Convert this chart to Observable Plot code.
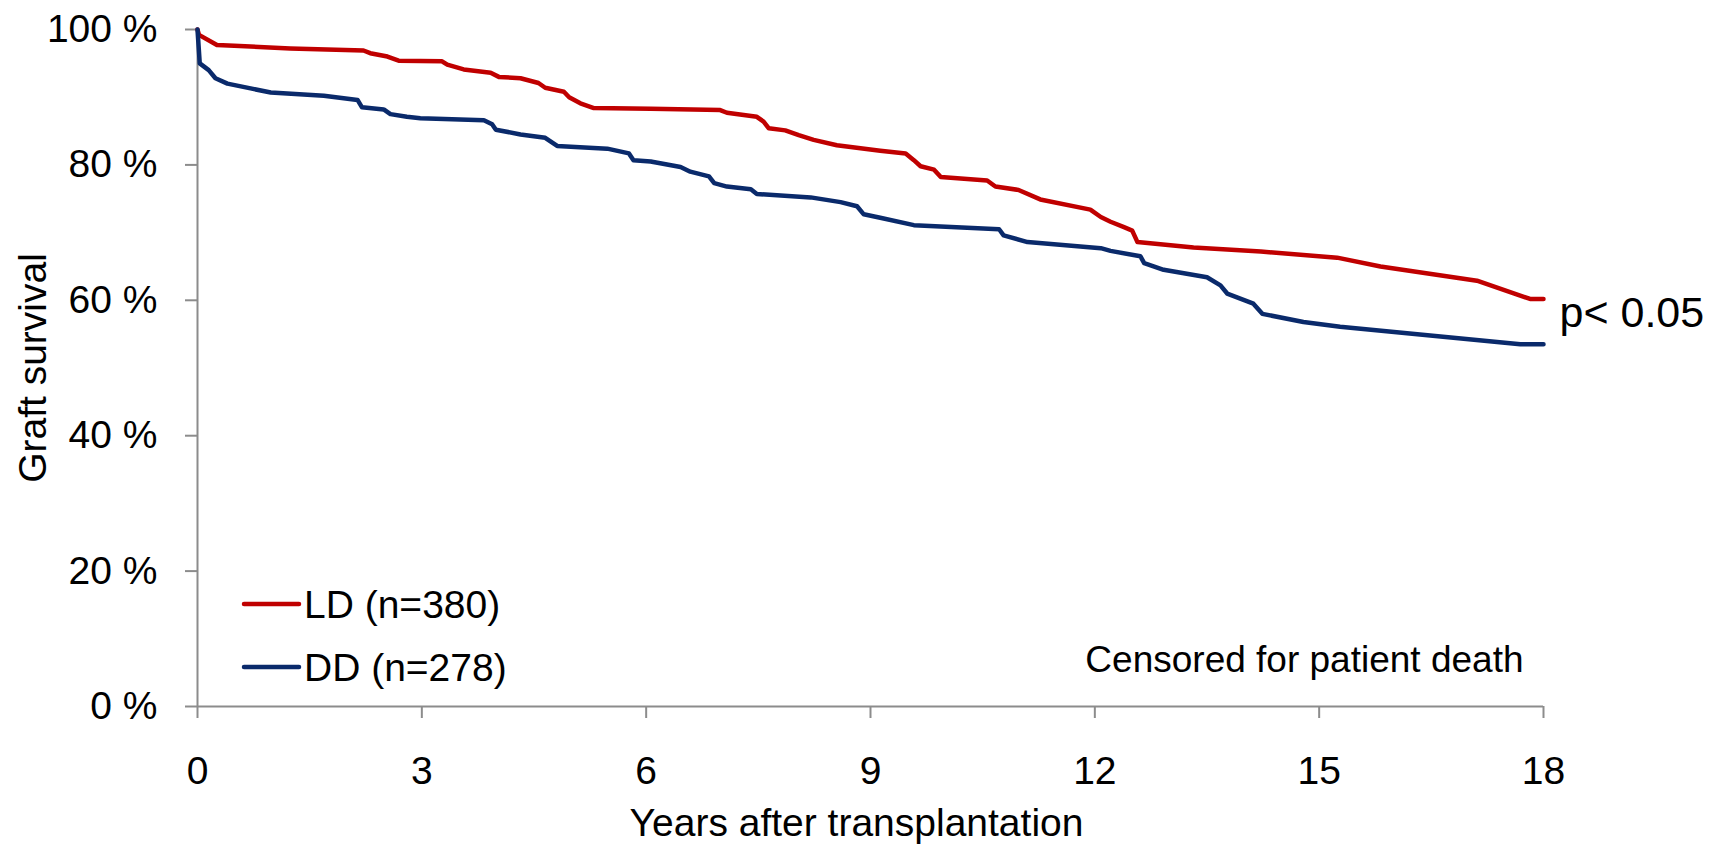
<!DOCTYPE html>
<html><head><meta charset="utf-8">
<script src="https://cdn.jsdelivr.net/npm/d3@7"></script>
<script src="https://cdn.jsdelivr.net/npm/@observablehq/plot@0.6"></script>
<style>
body{margin:0;background:#fff;}
#chart{width:1720px;height:848px;}
</style>
</head><body><div id="chart"></div>
<script>
// ---- data ----
const seriesNames = ["LD (n=380)", "DD (n=278)"];
const seriesColors = ["#c00000", "#0a2a6b"];

const ldYears = [0,0.02,0.26,0.49,1.24,2.22,2.31,2.54,2.69,3.27,3.34,3.56,3.92,4.03,4.32,4.56,4.65,4.90,4.97,5.12,5.30,6.06,6.99,7.08,7.48,7.57,7.64,7.86,8.04,8.24,8.55,9.13,9.47,9.58,9.67,9.85,9.94,10.56,10.67,10.98,11.27,11.94,12.08,12.21,12.39,12.50,12.57,13.32,14.22,15.24,15.82,17.11,17.82,18.0];
const ldSurvival = [100,99.2,97.7,97.6,97.2,96.9,96.5,96.0,95.4,95.3,94.8,94.1,93.6,93.0,92.8,92.1,91.4,90.8,90.0,89.1,88.4,88.3,88.1,87.7,87.1,86.4,85.4,85.1,84.4,83.7,82.9,82.1,81.7,80.7,79.8,79.3,78.2,77.7,76.8,76.3,74.9,73.4,72.3,71.6,70.8,70.3,68.6,67.8,67.2,66.3,65.0,62.9,60.2,60.2];

const ddYears = [0,0.03,0.15,0.24,0.40,0.71,0.98,1.69,2.14,2.20,2.49,2.58,2.80,2.98,3.83,3.94,3.99,4.32,4.65,4.81,5.48,5.77,5.83,6.06,6.46,6.59,6.84,6.91,7.08,7.40,7.48,8.20,8.60,8.82,8.91,9.13,9.58,10.72,10.78,11.10,12.08,12.21,12.61,12.66,12.92,13.50,13.68,13.77,14.12,14.24,14.79,15.28,17.69,18.0];
const ddSurvival = [100,95.0,94.0,92.8,92.0,91.3,90.7,90.2,89.6,88.5,88.2,87.5,87.1,86.9,86.6,86.0,85.2,84.5,84.0,82.8,82.4,81.7,80.7,80.5,79.7,79.0,78.3,77.3,76.8,76.4,75.7,75.2,74.5,73.9,72.7,72.2,71.1,70.5,69.6,68.6,67.7,67.3,66.5,65.5,64.5,63.4,62.2,61.0,59.5,58.0,56.8,56.1,53.5,53.5];

const xTicks = [0,3,6,9,12,15,18];
const yTicks = [0,20,40,60,80,100];
const xLabel = "Years after transplantation";
const yLabel = "Graft survival";
const pNote = "p< 0.05";
const censorNote = "Censored for patient death";

// ---- build table ----
const rows = [];
ldYears.forEach((t, i) => rows.push({series: seriesNames[0], t, s: ldSurvival[i]}));
ddYears.forEach((t, i) => rows.push({series: seriesNames[1], t, s: ddSurvival[i]}));

const font = "'Liberation Sans', Arial, sans-serif";
const axisGrey = "#8c8c8c";

const plot = Plot.plot({
  width: 1720, height: 848,
  marginLeft: 197, marginRight: 177, marginTop: 29, marginBottom: 142,
  style: {fontFamily: font, fontSize: "39px", color: "#000", background: "#fff", overflow: "visible"},
  x: {domain: [0, 18]},
  y: {domain: [0, 100]},
  color: {domain: seriesNames, range: seriesColors},
  marks: [
    Plot.axisY({ticks: yTicks, tickSize: 12, tickPadding: 28, tickFormat: d => d + " %", stroke: axisGrey, strokeWidth: 2, fill: "#000", label: null}),
    Plot.axisX({ticks: xTicks, tickSize: 12, tickPadding: 38, tickFormat: d => String(d), stroke: axisGrey, strokeWidth: 2, fill: "#000", label: null}),
    Plot.ruleX([0], {stroke: axisGrey, strokeWidth: 2}),
    Plot.ruleY([0], {stroke: axisGrey, strokeWidth: 2}),
    Plot.line(rows, {x: "t", y: "s", z: "series", stroke: "series", strokeWidth: 4.5, strokeLinejoin: "round"}),
    Plot.text([pNote], {frameAnchor: "right", text: d => d, dx: 16, dy: -55, textAnchor: "start", lineAnchor: "middle", fontSize: 43}),
    Plot.text([censorNote], {frameAnchor: "bottom-right", text: d => d, dx: -20, dy: -46, textAnchor: "end", lineAnchor: "middle", fontSize: 37}),
    Plot.text([xLabel], {frameAnchor: "bottom", text: d => d, dx: -14, dy: 117, textAnchor: "middle", lineAnchor: "middle", fontSize: 39}),
    Plot.text([yLabel], {frameAnchor: "left", text: d => d, dx: -164, rotate: -90, textAnchor: "middle", lineAnchor: "middle", fontSize: 39})
  ]
});

// legend (swatches + labels) placed relative to the frame's bottom-left corner
const svg = d3.select(plot);
const frameLeft = 197, frameBottom = 848 - 142;
const legendOffsets = [-102, -39];
const g = svg.append("g").attr("font-family", font).attr("font-size", 39).attr("text-anchor", "start");
seriesNames.forEach((name, i) => {
  const y = frameBottom + legendOffsets[i];
  g.append("line").attr("x1", frameLeft + 47).attr("x2", frameLeft + 102).attr("y1", y).attr("y2", y)
    .attr("stroke", seriesColors[i]).attr("stroke-width", 4.5).attr("stroke-linecap", "round");
  g.append("text").attr("x", frameLeft + 107).attr("y", y).attr("dy", "0.35em").attr("fill", "#000").attr("text-anchor", "start").text(name);
});

document.getElementById("chart").appendChild(plot);
</script>
</body></html>
